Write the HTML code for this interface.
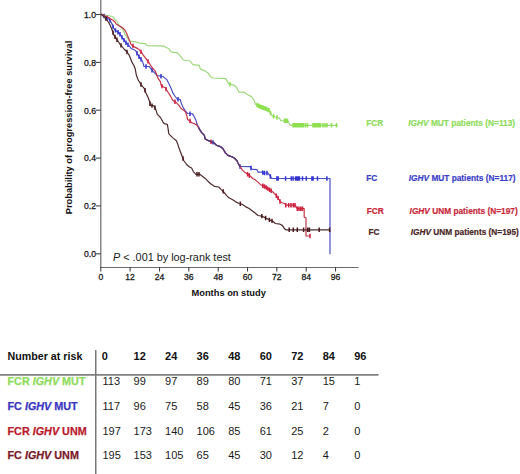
<!DOCTYPE html>
<html><head><meta charset="utf-8"><style>
html,body{margin:0;padding:0;background:#fff;}
body{width:520px;height:474px;overflow:hidden;position:relative;font-family:"Liberation Sans",sans-serif;}
svg{position:absolute;left:0;top:0;}
.tk{font-size:8.6px;fill:#222;stroke:#222;stroke-width:0.3px;}
.lab{font-weight:bold;fill:#111;}
.lg{font-weight:bold;font-size:8.3px;stroke-width:0.2px;}
.hd{font-weight:bold;font-size:11px;fill:#111;}
.hdl{font-weight:bold;font-size:10.7px;fill:#111;}
.nm{font-size:11px;fill:#1a1a1a;}
.rw{font-weight:bold;font-size:10.8px;stroke-width:0.25px;}
</style></head><body>
<svg width="520" height="474" viewBox="0 0 520 474">
<path d="M100.8,0V267.5H358.5" fill="none" stroke="#6a6a6a" stroke-width="1.2"/>
<path d="M96,14.5H100.8" stroke="#444" stroke-width="1.1"/>
<text x="96" y="17.8" text-anchor="end" class="tk">1.0</text>
<path d="M96,62.4H100.8" stroke="#444" stroke-width="1.1"/>
<text x="96" y="65.7" text-anchor="end" class="tk">0.8</text>
<path d="M96,110.2H100.8" stroke="#444" stroke-width="1.1"/>
<text x="96" y="113.5" text-anchor="end" class="tk">0.6</text>
<path d="M96,158.1H100.8" stroke="#444" stroke-width="1.1"/>
<text x="96" y="161.4" text-anchor="end" class="tk">0.4</text>
<path d="M96,205.9H100.8" stroke="#444" stroke-width="1.1"/>
<text x="96" y="209.2" text-anchor="end" class="tk">0.2</text>
<path d="M96,253.8H100.8" stroke="#444" stroke-width="1.1"/>
<text x="96" y="257.1" text-anchor="end" class="tk">0.0</text>
<path d="M100.8,267V271.5" stroke="#444" stroke-width="1.1"/>
<text x="100.8" y="279.5" text-anchor="middle" class="tk">0</text>
<path d="M130.1,267V271.5" stroke="#444" stroke-width="1.1"/>
<text x="130.1" y="279.5" text-anchor="middle" class="tk">12</text>
<path d="M159.5,267V271.5" stroke="#444" stroke-width="1.1"/>
<text x="159.5" y="279.5" text-anchor="middle" class="tk">24</text>
<path d="M188.8,267V271.5" stroke="#444" stroke-width="1.1"/>
<text x="188.8" y="279.5" text-anchor="middle" class="tk">36</text>
<path d="M218.2,267V271.5" stroke="#444" stroke-width="1.1"/>
<text x="218.2" y="279.5" text-anchor="middle" class="tk">48</text>
<path d="M247.5,267V271.5" stroke="#444" stroke-width="1.1"/>
<text x="247.5" y="279.5" text-anchor="middle" class="tk">60</text>
<path d="M276.8,267V271.5" stroke="#444" stroke-width="1.1"/>
<text x="276.8" y="279.5" text-anchor="middle" class="tk">72</text>
<path d="M306.2,267V271.5" stroke="#444" stroke-width="1.1"/>
<text x="306.2" y="279.5" text-anchor="middle" class="tk">84</text>
<path d="M335.5,267V271.5" stroke="#444" stroke-width="1.1"/>
<text x="335.5" y="279.5" text-anchor="middle" class="tk">96</text>

<path d="M100.8,14.1 L107.5,15.7 L110.7,16.0 L113.2,17.0 L114.5,18.9 L116.4,20.8 L117.6,22.7 L118.9,25.2 L121.4,27.7 L123.3,30.3 L124.7,33.8 L127.2,37.6 L129.1,40.8 L131.0,41.4 L134.2,41.7 L137.3,42.3 L140.0,43.2 L145.8,43.7 L146.7,45.6 L164.0,46.1 L166.0,47.5 L168.8,48.5 L170.8,51.8 L177.5,52.8 L180.4,56.2 L183.3,60.0 L190.0,61.0 L192.8,64.7 L199.1,65.3 L200.4,69.1 L204.2,70.4 L208.0,72.9 L210.5,76.7 L213.0,78.0 L225.7,78.6 L228.8,83.9 L233.9,85.2 L236.4,87.1 L238.9,92.2 L244.0,92.2 L247.8,94.7 L251.6,96.6 L254.1,100.4 L255.4,104.2 L260.4,106.7 L265.5,108.6 L269.3,110.5 L271.8,115.6 L276.9,117.5 L279.4,118.1 L280.7,120.6 L288.0,120.9 L290.2,125.3 L337.5,125.3" fill="none" stroke="#9ed87c" stroke-width="1.2" stroke-linejoin="round"/>
<path d="M257.0,102.8V107.2M258.5,103.6V108.0M260.0,104.3V108.7M261.5,104.9V109.3M263.0,105.5V109.9M264.5,106.0V110.4M266.0,106.6V111.0M267.5,107.4V111.8M269.0,108.1V112.5M270.5,110.7V115.1M273.5,114.0V118.4M277.0,115.3V119.7M284.5,118.6V123.0M286.0,118.6V123.0M287.5,118.7V123.1M293.0,123.1V127.5M294.5,123.1V127.5M296.0,123.1V127.5M297.5,123.1V127.5M299.0,123.1V127.5M300.5,123.1V127.5M302.0,123.1V127.5M303.5,123.1V127.5M305.5,123.1V127.5M307.5,123.1V127.5M313.0,123.1V127.5M314.5,123.1V127.5M316.0,123.1V127.5M317.5,123.1V127.5M319.0,123.1V127.5M320.5,123.1V127.5M323.0,123.1V127.5M325.0,123.1V127.5M327.0,123.1V127.5M331.5,123.1V127.5M336.5,123.1V127.5M230.0,82.0V86.4M262.0,105.1V109.5" fill="none" stroke="#8ee050" stroke-width="1.5"/>
<path d="M100.8,14.1 L105.6,17.0 L109.4,19.5 L110.7,21.4 L111.9,23.9 L113.2,27.1 L114.5,29.6 L117.0,31.5 L118.9,33.0 L120.8,35.3 L122.1,37.6 L124.0,40.1 L125.9,42.7 L127.8,44.6 L129.7,46.5 L131.0,48.4 L133.5,49.5 L135.7,50.7 L137.0,53.2 L138.2,55.1 L139.5,57.7 L141.4,59.6 L142.7,62.1 L143.6,64.6 L143.9,66.5 L149.0,66.5 L150.3,67.8 L151.5,69.7 L153.4,71.6 L155.3,73.5 L157.0,75.6 L163.0,76.5 L166.8,79.6 L169.5,85.1 L171.4,88.9 L172.7,92.7 L175.2,96.5 L177.1,99.0 L180.3,99.7 L181.5,104.1 L183.4,107.9 L185.3,111.0 L187.5,113.5 L192.6,113.9 L194.3,116.9 L196.0,120.3 L196.8,123.6 L198.5,127.0 L200.2,130.4 L201.9,132.9 L204.4,135.4 L205.1,139.0 L208.9,140.9 L214.0,142.8 L216.5,145.3 L220.3,146.6 L222.8,148.5 L225.4,152.9 L227.9,155.4 L231.7,156.7 L234.2,158.0 L236.8,160.5 L238.0,163.0 L240.0,166.5 L250.1,166.7 L251.8,169.2 L256.9,169.6 L258.1,172.2 L261.9,172.2 L263.6,173.0 L267.8,173.0 L269.5,175.1 L271.2,177.7 L272.1,178.5 L330.0,178.5 L330.0,254.3" fill="none" stroke="#4a50c8" stroke-width="1.2" stroke-linejoin="round"/>
<path d="M104.0,13.8V18.2M107.0,15.7V20.1M110.0,18.2V22.6M113.0,24.4V28.8M115.5,28.2V32.6M118.0,30.1V34.5M120.0,32.1V36.5M122.0,35.2V39.6M124.0,37.9V42.3M126.0,40.6V45.0M128.0,42.6V47.0M137.0,51.0V55.4M139.0,54.5V58.9M141.0,57.0V61.4M146.0,64.3V68.7M152.0,68.0V72.4M161.0,74.0V78.4M178.0,97.0V101.4M190.0,111.5V115.9M213.0,140.2V144.6M240.0,164.3V168.7M251.0,165.8V170.2M262.8,170.4V174.8M264.5,170.8V175.2M267.0,170.8V175.2M270.4,174.3V178.7M276.9,176.3V180.7M278.1,176.3V180.7M285.6,176.3V180.7M291.3,176.3V180.7M293.1,176.3V180.7M295.6,176.3V180.7M296.9,176.3V180.7M298.1,176.3V180.7M299.4,176.3V180.7M302.5,176.3V180.7M306.3,176.3V180.7M311.9,176.3V180.7M313.1,176.3V180.7M317.5,176.3V180.7M326.9,176.3V180.7" fill="none" stroke="#3434d0" stroke-width="1.5"/>
<path d="M100.8,14.1 L105.6,16.3 L108.8,17.6 L110.7,18.9 L112.6,20.1 L114.5,21.4 L115.7,23.3 L117.0,24.6 L118.9,25.8 L121.4,27.1 L123.3,28.4 L124.7,30.0 L126.6,33.2 L127.8,36.3 L129.1,39.5 L130.4,42.7 L131.0,44.6 L132.3,45.5 L134.8,47.1 L137.3,48.4 L139.2,49.6 L140.1,50.7 L142.0,53.2 L143.3,55.1 L145.2,57.7 L147.1,60.2 L149.0,62.7 L150.9,65.9 L152.8,68.4 L154.7,70.3 L155.9,72.8 L158.0,78.1 L160.5,81.9 L161.3,85.8 L165.1,87.7 L167.6,91.5 L170.1,95.3 L172.7,100.3 L176.5,102.8 L179.0,105.4 L180.9,108.5 L184.1,110.4 L185.5,112.0 L186.7,115.2 L187.5,119.4 L190.1,121.1 L191.8,122.8 L194.3,123.6 L196.0,124.5 L197.7,126.2 L198.5,127.8 L200.2,130.4 L201.9,132.9 L204.4,135.4 L205.1,139.0 L208.9,140.9 L214.0,142.8 L216.5,145.3 L220.3,146.6 L222.8,148.5 L225.4,152.9 L227.9,155.4 L231.7,156.7 L234.2,158.0 L236.8,160.5 L238.0,163.0 L240.0,166.7 L242.5,170.1 L245.1,172.6 L247.6,174.3 L250.1,176.0 L252.7,178.5 L255.2,179.8 L257.7,181.9 L260.3,184.4 L261.9,185.3 L265.3,186.9 L267.8,188.6 L270.4,190.3 L272.9,192.0 L275.4,194.5 L278.0,197.9 L280.0,201.5 L282.6,203.0 L284.6,203.5 L285.8,205.2 L295.0,205.2 L297.3,208.7 L304.2,208.7 L304.2,217.3 L306.0,217.9 L306.0,236.0 L310.6,236.0" fill="none" stroke="#c43448" stroke-width="1.2" stroke-linejoin="round"/>
<path d="M133.0,43.7V48.1M141.0,49.7V54.1M148.0,59.2V63.6M162.0,83.9V88.3M166.0,86.9V91.3M175.0,99.6V104.0M190.0,118.8V123.2M211.0,139.5V143.9M247.6,172.1V176.5M249.3,173.3V177.7M262.8,183.5V187.9M264.5,184.3V188.7M266.2,185.3V189.7M267.8,186.4V190.8M269.5,187.5V191.9M271.2,188.6V193.0M276.3,193.5V197.9M278.0,195.7V200.1M280.0,199.3V203.7M285.8,203.0V207.4M288.7,203.0V207.4M291.0,203.0V207.4M293.3,203.0V207.4M295.0,203.0V207.4M297.3,206.5V210.9M299.0,206.5V210.9M300.8,206.5V210.9M302.5,206.5V210.9M310.0,233.8V238.2" fill="none" stroke="#d02040" stroke-width="1.5"/>
<path d="M100.8,14.1 L104.3,17.0 L106.2,18.9 L107.5,20.8 L109.1,23.3 L110.7,26.5 L112.2,30.3 L113.9,35.1 L115.8,38.2 L117.7,40.8 L119.0,42.7 L120.2,44.6 L122.1,46.5 L124.0,49.0 L126.6,51.5 L128.5,54.0 L129.7,56.6 L131.0,59.7 L131.9,62.1 L133.8,65.3 L135.1,68.4 L135.7,71.6 L136.3,75.0 L138.2,80.0 L141.4,85.1 L144.6,88.9 L145.8,92.7 L147.7,96.5 L149.6,101.5 L150.3,105.3 L154.1,105.9 L155.9,109.7 L157.2,114.2 L160.4,117.5 L162.9,121.8 L164.2,123.7 L167.3,124.3 L168.0,128.1 L168.8,133.8 L172.6,137.6 L176.4,140.8 L177.7,143.9 L178.9,147.7 L180.8,152.8 L182.7,157.8 L184.0,161.0 L186.5,164.2 L189.1,166.7 L191.6,168.0 L193.5,171.8 L196.0,174.3 L199.8,174.3 L203.0,176.8 L205.5,178.7 L208.0,181.3 L210.6,183.8 L214.4,186.3 L218.8,187.0 L221.3,189.6 L223.9,192.1 L226.4,195.3 L228.9,197.8 L232.7,199.7 L235.3,201.6 L239.1,203.5 L241.6,204.1 L245.4,206.6 L249.2,208.5 L251.7,210.4 L254.2,212.3 L258.0,215.5 L261.8,216.1 L265.6,218.0 L269.4,219.9 L272.7,221.2 L275.4,223.5 L280.0,224.2 L282.3,225.4 L284.6,228.8 L285.8,229.8 L329.6,229.8" fill="none" stroke="#4d2a2c" stroke-width="1.2" stroke-linejoin="round"/>
<path d="M106.0,16.5V20.9M113.0,30.4V34.8M115.0,34.7V39.1M117.0,37.6V42.0M121.0,43.2V47.6M127.0,49.8V54.2M141.0,82.3V86.7M145.0,88.0V92.4M150.0,101.5V105.9M152.0,103.4V107.8M155.0,105.6V110.0M183.0,156.3V160.7M197.0,172.1V176.5M199.0,172.1V176.5M223.2,189.2V193.6M240.3,201.6V206.0M261.8,213.9V218.3M265.6,215.8V220.2M269.4,217.7V222.1M272.0,218.7V223.1M289.2,227.6V232.0M293.3,227.6V232.0M297.3,227.6V232.0M303.6,227.6V232.0M307.7,227.6V232.0M309.4,227.6V232.0M319.2,227.6V232.0M329.6,227.6V232.0" fill="none" stroke="#4a1a1e" stroke-width="1.5"/>
<path d="M198.5,127.4 L200.2,130.4 L201.9,132.9 L204.4,135.4 L205.1,139.0 L208.9,140.9 L214.0,142.8 L216.5,145.3 L220.3,146.6 L222.8,148.5 L225.4,152.9 L227.9,155.4 L231.7,156.7 L234.2,158.0 L236.8,160.5 L238.0,163.0 L240.0,166.6" fill="none" stroke="#4d3a78" stroke-width="1.3" stroke-linejoin="round"/>

<text transform="translate(72,214.3) rotate(-90)" class="lab" font-size="9.3">Probability of progression-free survival</text>
<text x="191.5" y="296" class="lab" font-size="9.3">Months on study</text>
<text x="113" y="260.8" font-size="10.85" fill="#1a1a1a"><tspan font-style="italic">P</tspan> &lt; .001 by log-rank test</text>

<text x="366.3" y="126.1" class="lg" fill="#8fdc5c" stroke="#8fdc5c">FCR</text>
<text x="408.3" y="126.1" class="lg" fill="#8fdc5c" stroke="#8fdc5c"><tspan font-style="italic">IGHV</tspan> MUT patients (N=113)</text>
<text x="366.3" y="180.8" class="lg" fill="#3b3fc8" stroke="#3b3fc8">FC</text>
<text x="408.8" y="180.8" class="lg" fill="#3b3fc8" stroke="#3b3fc8"><tspan font-style="italic">IGHV</tspan> MUT patients (N=117)</text>
<text x="366.8" y="213.7" class="lg" fill="#c8283a" stroke="#c8283a">FCR</text>
<text x="409.6" y="213.7" class="lg" fill="#c8283a" stroke="#c8283a"><tspan font-style="italic">IGHV</tspan> UNM patients (N=197)</text>
<text x="368.5" y="234.6" class="lg" fill="#4a2626" stroke="#4a2626">FC</text>
<text x="410.7" y="234.6" class="lg" fill="#4a2626" stroke="#4a2626"><tspan font-style="italic">IGHV</tspan> UNM patients (N=195)</text>

<path d="M95.8,350V474" stroke="#555" stroke-width="1.2"/>
<path d="M0,374.8H378.5" stroke="#808080" stroke-width="1.7"/>
<text x="7.5" y="359.6" class="hdl">Number at risk</text>
<text x="101.7" y="359.6" class="hd">0</text>
<text x="133.6" y="359.6" class="hd">12</text>
<text x="165.1" y="359.6" class="hd">24</text>
<text x="196.6" y="359.6" class="hd">36</text>
<text x="228.2" y="359.6" class="hd">48</text>
<text x="259.7" y="359.6" class="hd">60</text>
<text x="291.2" y="359.6" class="hd">72</text>
<text x="322.7" y="359.6" class="hd">84</text>
<text x="354.2" y="359.6" class="hd">96</text>
<text x="7.5" y="384.9" class="rw" fill="#8fdc5c" stroke="#8fdc5c">FCR <tspan font-style="italic">IGHV</tspan> MUT</text>
<text x="102.5" y="384.9" class="nm">113</text>
<text x="133.6" y="384.9" class="nm">99</text>
<text x="165.1" y="384.9" class="nm">97</text>
<text x="196.6" y="384.9" class="nm">89</text>
<text x="228.2" y="384.9" class="nm">80</text>
<text x="259.7" y="384.9" class="nm">71</text>
<text x="291.2" y="384.9" class="nm">37</text>
<text x="322.7" y="384.9" class="nm">15</text>
<text x="354.2" y="384.9" class="nm">1</text>
<text x="7.5" y="409.9" class="rw" fill="#3a36c0" stroke="#3a36c0">FC <tspan font-style="italic">IGHV</tspan> MUT</text>
<text x="102.5" y="409.9" class="nm">117</text>
<text x="133.6" y="409.9" class="nm">96</text>
<text x="165.1" y="409.9" class="nm">75</text>
<text x="196.6" y="409.9" class="nm">58</text>
<text x="228.2" y="409.9" class="nm">45</text>
<text x="259.7" y="409.9" class="nm">36</text>
<text x="291.2" y="409.9" class="nm">21</text>
<text x="322.7" y="409.9" class="nm">7</text>
<text x="354.2" y="409.9" class="nm">0</text>
<text x="7.5" y="434.7" class="rw" fill="#b81c2c" stroke="#b81c2c">FCR <tspan font-style="italic">IGHV</tspan> UNM</text>
<text x="102.5" y="434.7" class="nm">197</text>
<text x="133.6" y="434.7" class="nm">173</text>
<text x="165.1" y="434.7" class="nm">140</text>
<text x="196.6" y="434.7" class="nm">106</text>
<text x="228.2" y="434.7" class="nm">85</text>
<text x="259.7" y="434.7" class="nm">61</text>
<text x="291.2" y="434.7" class="nm">25</text>
<text x="322.7" y="434.7" class="nm">2</text>
<text x="354.2" y="434.7" class="nm">0</text>
<text x="7.5" y="459.3" class="rw" fill="#7a1a28" stroke="#7a1a28">FC <tspan font-style="italic">IGHV</tspan> UNM</text>
<text x="102.5" y="459.3" class="nm">195</text>
<text x="133.6" y="459.3" class="nm">153</text>
<text x="165.1" y="459.3" class="nm">105</text>
<text x="196.6" y="459.3" class="nm">65</text>
<text x="228.2" y="459.3" class="nm">45</text>
<text x="259.7" y="459.3" class="nm">30</text>
<text x="291.2" y="459.3" class="nm">12</text>
<text x="322.7" y="459.3" class="nm">4</text>
<text x="354.2" y="459.3" class="nm">0</text>
</svg>
</body></html>
